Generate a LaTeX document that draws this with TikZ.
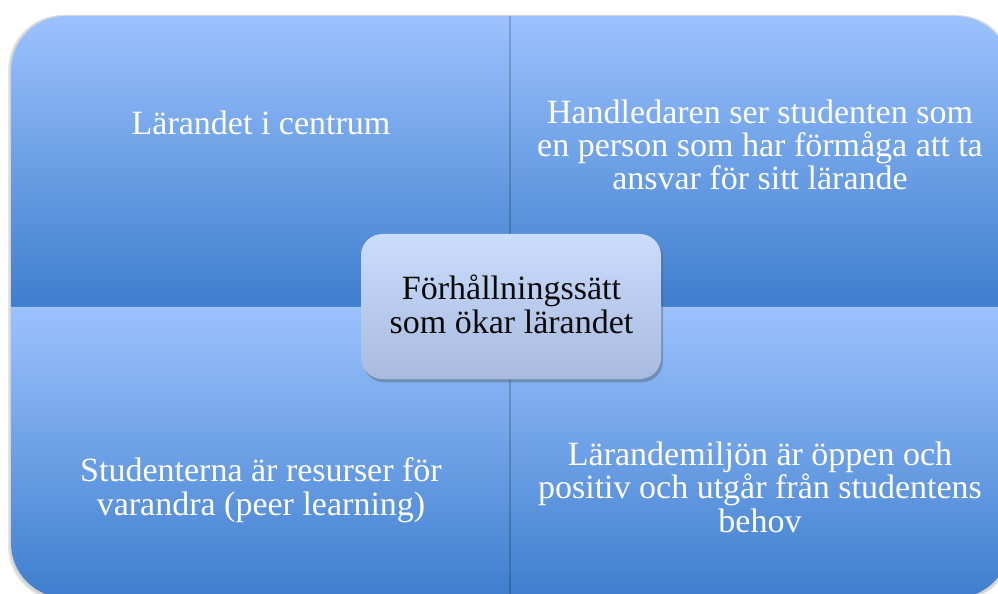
\documentclass[tikz,border=0pt]{standalone}
\usepackage{fontspec}
\setmainfont{Liberation Serif}
\usetikzlibrary{shadows}
\definecolor{qtop}{RGB}{156,194,254}
\definecolor{qbot}{RGB}{62,126,205}
\definecolor{ctop}{RGB}{203,221,252}
\definecolor{cbot}{RGB}{168,186,222}
\definecolor{ctext}{RGB}{10,10,10}
\tikzset{
  quad/.style={top color=qtop, bottom color=qbot, draw=none},
  qtext/.style={text=white, align=center, anchor=base, inner sep=0pt,
    font=\fontsize{25.5}{25}\selectfont},
  centerbox/.style={rounded corners=16pt, top color=ctop, bottom color=cbot,
    draw=none, minimum width=225pt, minimum height=108.75pt, inner sep=0pt,
    drop shadow={shadow xshift=1.5pt, shadow yshift=-2.5pt, opacity=0.35, fill=black!70}},
  ctxt/.style={text=ctext, align=center, anchor=base, inner sep=0pt,
    font=\fontsize{25.5}{25}\selectfont},
}
\begin{document}
\begin{tikzpicture}[x=0.75pt,y=0.75pt]
\useasboundingbox (0,0) rectangle (998,593);
\clip (0,0) rectangle (998,593);
% soft outer shadow
\fill[black, opacity=0.10, rounded corners=41pt] (8,-8) rectangle (1012,578);
\fill[black, opacity=0.08, rounded corners=41pt] (9.5,-7) rectangle (1011,577.5);
% quadrants
\shade[quad] (11,286) -- (11,522) arc[start angle=180,end angle=90,radius=55] -- (510,577) -- (510,286) -- cycle;
\shade[quad] (510,286) -- (510,577) -- (955,577) arc[start angle=90,end angle=0,radius=55] -- (1010,286) -- cycle;
\shade[quad] (11,286) -- (11,50) arc[start angle=180,end angle=270,radius=55] -- (510,-5) -- (510,286) -- cycle;
\shade[quad] (510,286) -- (1010,286) -- (1010,50) arc[start angle=0,end angle=-90,radius=55] -- (510,-5) -- cycle;
% separating shadow line
\draw[black, opacity=0.18, line width=1.2pt] (510,577) -- (510,-5);
% texts (anchor=base is the baseline of the last line)
\node[qtext] (tl) at (261,458) {Lärandet i centrum};
\node[qtext] (tr) at (760,403) {Handledaren ser studenten som\\en person som har förmåga att ta\\ansvar för sitt lärande};
\node[qtext] (bl) at (261,78) {Studenterna är resurser för\\varandra (peer learning)};
\node[qtext] (br) at (760,61) {Lärandemiljön är öppen och\\positiv och utgår från studentens\\behov};
% center
\node[centerbox] (c) at (511,286.5) {};
\node[ctxt] (ct) at (511.5,260) {Förhållningssätt\\som ökar lärandet};
\end{tikzpicture}
\end{document}
